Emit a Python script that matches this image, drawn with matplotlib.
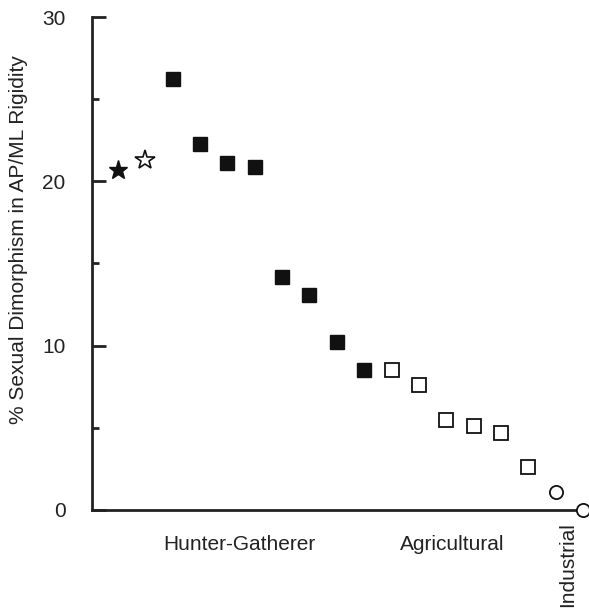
import matplotlib
matplotlib.use("Agg")
import matplotlib.pyplot as plt

plt.rcParams['font.family'] = ['Liberation Sans', 'DejaVu Sans']

# data
star_filled_x = [1]
star_filled_y = [20.7]
star_open_x = [2]
star_open_y = [21.3]
hg_x = [3, 4, 5, 6, 7, 8, 9, 10]
hg_y = [26.2, 22.3, 21.1, 20.9, 14.2, 13.1, 10.2, 8.5]
ag_x = [11, 12, 13, 14, 15, 16]
ag_y = [8.5, 7.6, 5.5, 5.1, 4.7, 2.6]
ind_x = [17, 18]
ind_y = [1.1, 0.0]
group_labels = ["Hunter-Gatherer", "Agricultural", "Industrial"]
group_label_x = [5.45, 13.2, 17.45]
y_ticks = [0, 10, 20, 30]
y_label = "% Sexual Dimorphism in AP/ML Rigidity"

fig = plt.figure(figsize=(5.89, 6.12), dpi=100)
ax = fig.add_axes([0.156, 0.1667, 0.834, 0.8055])

ax.plot(star_filled_x, star_filled_y, '*', color='#111111', ms=14, clip_on=False)
ax.plot(star_open_x, star_open_y, '*', mfc='white', mec='#111111', mew=1.2, ms=15, clip_on=False)
ax.plot(hg_x, hg_y, 's', color='#111111', ms=10.5, clip_on=False)
ax.plot(ag_x, ag_y, 's', mfc='white', mec='#111111', mew=1.3, ms=10, clip_on=False)
ax.plot(ind_x, ind_y, 'o', mfc='white', mec='#111111', mew=1.3, ms=9.5, clip_on=False, zorder=5)

ax.set_xlim(0.05, 18)
ax.set_ylim(0, 30)
for s in ['top', 'right']:
    ax.spines[s].set_visible(False)
for s in ['left', 'bottom']:
    ax.spines[s].set_linewidth(2)
    ax.spines[s].set_color('#222222')
ax.set_xticks([])
ax.set_yticks(y_ticks)
ax.set_yticks([5, 15, 25], minor=True)
ax.tick_params(axis='y', which='major', direction='in', length=10, width=2, labelsize=15, pad=19, colors='#222222')
ax.tick_params(axis='y', which='minor', direction='in', length=5, width=2, colors='#222222')

for lab, xx in zip(group_labels[:2], group_label_x[:2]):
    ax.text(xx, -2.1, lab, ha='center', va='center', fontsize=15, color='#222222', clip_on=False)
ax.text(group_label_x[2], -0.75, group_labels[2], ha='center', va='top', rotation=90, fontsize=15, color='#222222', clip_on=False)

fig.text(0.031, 0.608, y_label, rotation=90, ha='center', va='center', fontsize=15, color='#222222')

fig.savefig("out.png", dpi=100)
